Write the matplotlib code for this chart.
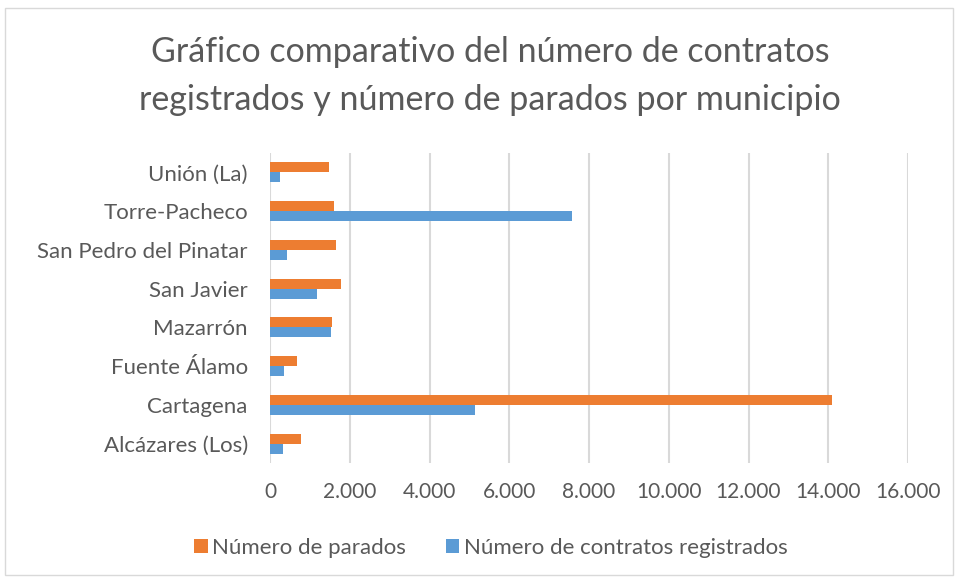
import matplotlib
matplotlib.use("Agg")
import matplotlib.pyplot as plt
import numpy as np
from matplotlib.patches import Rectangle
from matplotlib.ticker import FuncFormatter

municipios = ["Alcázares (Los)", "Cartagena", "Fuente Álamo", "Mazarrón",
              "San Javier", "San Pedro del Pinatar", "Torre-Pacheco", "Unión (La)"]
parados = [770, 14100, 680, 1550, 1770, 1650, 1610, 1480]
contratos = [320, 5150, 360, 1520, 1190, 420, 7570, 250]
xticks = list(range(0, 16001, 2000))

title = "Gráfico comparativo del número de contratos\nregistrados y número de parados por municipio"

plt.rcParams['font.family'] = ['Lato', 'DejaVu Sans']
gray = "#595959"
orange = "#ED7D31"
blue = "#5B9BD5"

fig = plt.figure(figsize=(9.58, 5.83), dpi=100)
ax = fig.add_axes([270/958, 1-463/583, (908-270)/958, (463-153)/583])

y = np.arange(len(municipios))
h = 0.26
ax.barh(y + h/2, parados, height=h, color=orange, label="Número de parados", zorder=3)
ax.barh(y - h/2, contratos, height=h, color=blue, label="Número de contratos registrados", zorder=3)

ax.set_xlim(0, 16000)
ax.set_ylim(-0.5, len(municipios) - 0.5)
ax.set_xticks(xticks)
ax.xaxis.set_major_formatter(FuncFormatter(lambda v, p: f"{int(v):,}".replace(",", ".")))
ax.set_yticks(y)
ax.set_yticklabels(municipios)
ax.tick_params(axis='both', length=0, colors=gray)
ax.tick_params(axis='x', pad=14, labelsize=15)
ax.tick_params(axis='y', pad=16, labelsize=16)
for s in ax.spines.values():
    s.set_visible(False)
ax.grid(axis='x', color="#d9d9d9", linewidth=1.5, zorder=0)
ax.set_axisbelow(True)

fig.text(490/958, 1-76/583, title, ha='center', va='center', fontsize=24.5, color=gray,
         linespacing=1.6)

leg = fig.legend(loc='center', bbox_to_anchor=(491/958, 1-548/583), ncol=2, frameon=False,
                 fontsize=16, handlelength=0.6, handleheight=0.6, handletextpad=0.2,
                 columnspacing=1.8, labelcolor=gray)

fig.patches.append(Rectangle((5/958, 8/583), 948/958, 567/583, transform=fig.transFigure,
                             fill=False, edgecolor="#d9d9d9", linewidth=1))

fig.savefig("out.png", dpi=100)
